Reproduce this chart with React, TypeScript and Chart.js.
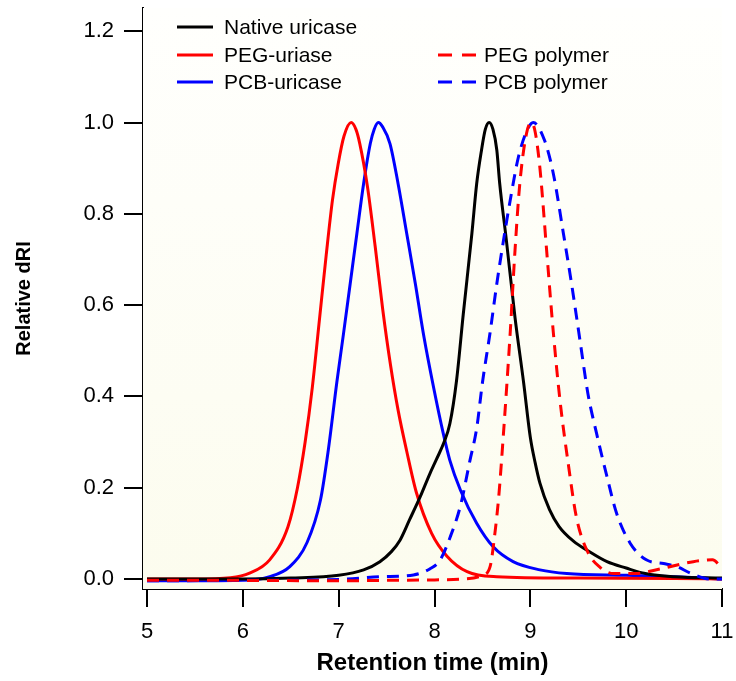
import React, { useEffect, useRef } from "react";
import { Chart, registerables } from "chart.js";

Chart.register(...registerables);

// ---- Data ----
const xTicks = [5, 6, 7, 8, 9, 10, 11];
const yTicks = [0, 0.2, 0.4, 0.6, 0.8, 1.0, 1.2];

const seriesLabels = ["Native uricase", "PEG-uriase", "PCB-uricase", "PEG polymer", "PCB polymer"];

const nativeX = [5.0, 5.5, 6.0, 6.5, 7.0, 7.26, 7.43, 7.55, 7.64, 7.74, 7.85, 7.95, 8.02, 8.1, 8.16, 8.23, 8.3, 8.39, 8.44, 8.49, 8.53, 8.57, 8.61, 8.65, 8.68, 8.75, 8.84, 8.93, 9.0, 9.05, 9.1, 9.2, 9.3, 9.45, 9.6, 9.8, 10.0, 10.2, 10.5, 11.0];
const nativeY = [0.0, 0.0, 0.0, 0.002, 0.008, 0.02, 0.038, 0.06, 0.085, 0.13, 0.18, 0.23, 0.262, 0.3, 0.34, 0.435, 0.58, 0.757, 0.866, 0.939, 0.985, 1.0, 0.985, 0.94, 0.867, 0.742, 0.573, 0.43, 0.31, 0.255, 0.21, 0.152, 0.115, 0.083, 0.062, 0.038, 0.024, 0.012, 0.005, 0.002];

const pegUricaseX = [5.0, 5.5, 5.87, 6.07, 6.28, 6.47, 6.57, 6.65, 6.725, 6.8, 6.87, 6.935, 6.995, 7.055, 7.13, 7.18, 7.22, 7.3, 7.38, 7.46, 7.54, 7.62, 7.71, 7.81, 7.97, 8.13, 8.34, 8.65, 9.5, 10.5, 11.0];
const pegUricaseY = [0.0, 0.0, 0.003, 0.013, 0.042, 0.114, 0.2, 0.3, 0.42, 0.57, 0.71, 0.83, 0.91, 0.97, 1.0, 0.985, 0.954, 0.86, 0.73, 0.59, 0.47, 0.37, 0.28, 0.19, 0.1, 0.05, 0.016, 0.005, 0.002, 0.001, 0.0];

const pcbUricaseX = [5.0, 5.5, 6.0, 6.28, 6.49, 6.67, 6.81, 6.89, 6.98, 7.05, 7.12, 7.19, 7.26, 7.33, 7.37, 7.414, 7.46, 7.535, 7.62, 7.71, 7.8, 7.89, 7.99, 8.09, 8.16, 8.27, 8.44, 8.61, 8.82, 9.1, 9.38, 10.0, 10.5, 11.0];
const pcbUricaseY = [-0.004, -0.004, -0.003, 0.005, 0.027, 0.08, 0.173, 0.28, 0.43, 0.537, 0.647, 0.757, 0.866, 0.954, 0.985, 1.0, 0.99, 0.954, 0.866, 0.757, 0.647, 0.53, 0.42, 0.32, 0.26, 0.195, 0.122, 0.071, 0.038, 0.02, 0.012, 0.008, 0.005, 0.0];

const pegPolymerX = [5.0, 6.0, 7.0, 7.5, 8.0, 8.3, 8.5, 8.58, 8.63, 8.67, 8.72, 8.79, 8.84, 8.89, 8.96, 9.01, 9.05, 9.1, 9.17, 9.24, 9.31, 9.4, 9.48, 9.59, 9.73, 9.87, 10.1, 10.35, 10.7, 10.9, 11.0];
const pegPolymerY = [-0.003, -0.003, -0.004, -0.003, -0.002, 0.0, 0.008, 0.027, 0.1, 0.18, 0.32, 0.54, 0.72, 0.866, 0.976, 1.0, 0.98, 0.9, 0.72, 0.54, 0.39, 0.246, 0.136, 0.063, 0.025, 0.012, 0.012, 0.022, 0.038, 0.042, 0.024];

const pcbPolymerX = [5.0, 6.0, 7.0, 7.43, 7.78, 7.95, 8.06, 8.16, 8.27, 8.37, 8.44, 8.5, 8.58, 8.65, 8.72, 8.79, 8.875, 8.96, 9.03, 9.15, 9.24, 9.345, 9.43, 9.52, 9.6, 9.69, 9.8, 9.9, 10.04, 10.21, 10.39, 10.53, 10.67, 10.875, 11.0];
const pcbPolymerY = [-0.004, -0.003, -0.001, 0.005, 0.009, 0.022, 0.042, 0.09, 0.16, 0.26, 0.33, 0.43, 0.54, 0.647, 0.742, 0.83, 0.924, 0.98, 1.0, 0.96, 0.888, 0.757, 0.647, 0.52, 0.407, 0.32, 0.224, 0.144, 0.079, 0.042, 0.034, 0.027, 0.013, 0.0, 0.0];

const FONT = '"Liberation Sans", Arial, Helvetica, sans-serif';

const toPoints = (xs: number[], ys: number[]) => xs.map((x, i) => ({ x, y: ys[i] }));

const backgroundPlugin = {
  id: "plotBackground",
  beforeDatasetsDraw(chart: any) {
    const { ctx, chartArea } = chart;
    if (!chartArea) return;
    const g = ctx.createLinearGradient(0, chartArea.top, 0, chartArea.bottom);
    g.addColorStop(0, "rgb(255,255,253)");
    g.addColorStop(1, "rgb(252,252,238)");
    ctx.save();
    ctx.fillStyle = g;
    ctx.fillRect(chartArea.left, chartArea.top, chartArea.right - chartArea.left, chartArea.bottom - chartArea.top);
    ctx.restore();
  },
};

const legendPlugin = {
  id: "customLegend",
  afterDraw(chart: any) {
    const ctx = chart.ctx;
    const items = [
      { label: seriesLabels[0], color: "#000000", dash: [] as number[], x: 177, y: 27 },
      { label: seriesLabels[1], color: "#ff0000", dash: [] as number[], x: 177, y: 55 },
      { label: seriesLabels[2], color: "#0000ff", dash: [] as number[], x: 177, y: 82 },
      { label: seriesLabels[3], color: "#ff0000", dash: [14, 10], x: 438, y: 55 },
      { label: seriesLabels[4], color: "#0000ff", dash: [14, 10], x: 438, y: 82 },
    ];
    ctx.save();
    ctx.font = `21px ${FONT}`;
    ctx.textBaseline = "middle";
    ctx.textAlign = "left";
    items.forEach((it) => {
      ctx.beginPath();
      ctx.setLineDash(it.dash);
      ctx.lineWidth = 3;
      ctx.strokeStyle = it.color;
      ctx.lineCap = "butt";
      const len = it.dash.length ? 38 : 36;
      ctx.moveTo(it.x, it.y);
      ctx.lineTo(it.x + len, it.y);
      ctx.stroke();
      ctx.setLineDash([]);
      ctx.fillStyle = "#000";
      ctx.fillText(it.label, it.x + len + (it.dash.length ? 8 : 11), it.y + 1);
    });
    ctx.restore();
  },
};

export default function App() {
  const canvasRef = useRef<HTMLCanvasElement | null>(null);

  useEffect(() => {
    if (!canvasRef.current) return;
    const common = { pointRadius: 0, borderWidth: 3, fill: false, cubicInterpolationMode: "monotone" as const };
    const chart = new Chart(canvasRef.current, {
      type: "line",
      data: {
        datasets: [
          { label: seriesLabels[3], data: toPoints(pegPolymerX, pegPolymerY), borderColor: "#ff0000", borderDash: [12, 8], ...common },
          { label: seriesLabels[4], data: toPoints(pcbPolymerX, pcbPolymerY), borderColor: "#0000ff", borderDash: [12, 8], ...common },
          { label: seriesLabels[0], data: toPoints(nativeX, nativeY), borderColor: "#000000", ...common },
          { label: seriesLabels[1], data: toPoints(pegUricaseX, pegUricaseY), borderColor: "#ff0000", ...common },
          { label: seriesLabels[2], data: toPoints(pcbUricaseX, pcbUricaseY), borderColor: "#0000ff", ...common },
        ],
      },
      options: {
        animation: false,
        responsive: true,
        maintainAspectRatio: false,
        layout: { padding: { top: 8, right: 14, left: 0, bottom: 0 } },
        plugins: {
          legend: { display: false },
          tooltip: { enabled: false },
        },
        scales: {
          x: {
            type: "linear",
            min: 4.958,
            max: 11,
            afterFit: (scale: any) => {
              scale.height = 92;
              scale.paddingLeft = 0;
              scale.paddingRight = 0;
            },
            afterBuildTicks: (scale: any) => {
              scale.ticks = xTicks.map((v) => ({ value: v }));
            },
            border: { display: true, color: "#000", width: 2 },
            grid: { drawOnChartArea: false, drawTicks: true, tickLength: 18, color: "#000", lineWidth: 2 },
            ticks: {
              color: "#000",
              font: { family: FONT, size: 22 },
              padding: 12,
              maxRotation: 0,
              callback: (v: any) => String(v),
            },
            title: {
              display: true,
              text: "Retention time (min)",
              color: "#000",
              font: { family: FONT, size: 24, weight: "bold" },
              padding: { top: 0, bottom: 3 },
            },
          },
          y: {
            type: "linear",
            min: -0.0219,
            max: 1.251,
            afterFit: (scale: any) => {
              scale.width = 143;
              scale.paddingTop = 0;
              scale.paddingBottom = 0;
            },
            afterBuildTicks: (scale: any) => {
              scale.ticks = yTicks.map((v) => ({ value: v }));
            },
            border: { display: true, color: "#000", width: 2 },
            grid: { drawOnChartArea: false, drawTicks: true, tickLength: 19, color: "#000", lineWidth: 2 },
            ticks: {
              color: "#000",
              font: { family: FONT, size: 22 },
              padding: 10,
              callback: (v: any) => Number(v).toFixed(1),
            },
            title: {
              display: true,
              text: "Relative dRI",
              color: "#000",
              font: { family: FONT, size: 20, weight: "bold" },
              padding: { top: 12, bottom: 0 },
            },
          },
        },
      },
      plugins: [backgroundPlugin, legendPlugin],
    });
    return () => chart.destroy();
  }, []);

  return (
    <div style={{ position: "absolute", left: 0, top: 0, width: 736, height: 681, background: "#fff" }}>
      <canvas ref={canvasRef} />
    </div>
  );
}
